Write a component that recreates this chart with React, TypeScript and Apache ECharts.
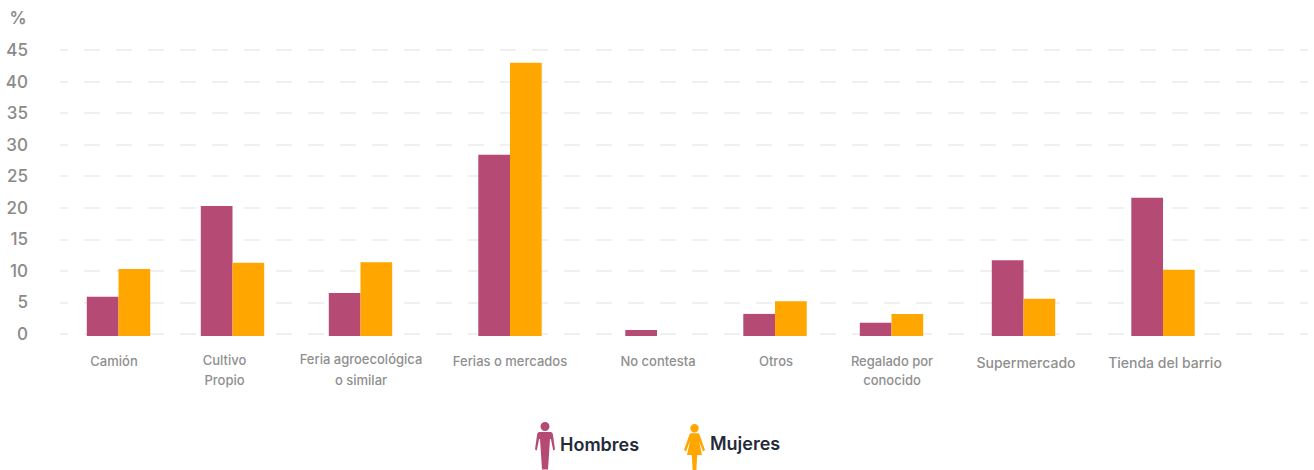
import React, { useEffect, useRef } from "react";
import * as echarts from "echarts";

const categories = [
  "Camión",
  "Cultivo\nPropio",
  "Feria agroecológica\no similar",
  "Ferias o mercados",
  "No contesta",
  "Otros",
  "Regalado por\nconocido",
  "Supermercado",
  "Tienda del barrio",
];
const hombres = [6.2, 20.6, 6.8, 28.7, 0.95, 3.5, 2.1, 12.0, 21.9];
const mujeres: (number | null)[] = [10.6, 11.6, 11.7, 43.3, null, 5.5, 3.5, 5.9, 10.5];
const yTicks = [0, 5, 10, 15, 20, 25, 30, 35, 40, 45];

// Uneven group placement along the horizontal pixel-like scale
const groupCenters = [118.5, 232.5, 360.5, 510, 657, 775, 891.5, 1023.5, 1163];
const labelCenters = [114, 224.5, 361, 510, 658, 776, 892, 1026, 1165];
const labelStyleKeys = ["a", "b", "c", "a", "a", "a", "e", "d", "d"];

const MAN =
  "path://M10 0.5a4.5 4.5 0 1 1 0 9a4.5 4.5 0 1 1 0-9zM4.5 10.5H15.5C17 10.5 17.6 11.5 17.9 13L20 28L18.2 29L15.9 17.5L15 17.5L13 48H7L5 17.5L4.1 17.5L1.8 29L0 28L2.1 13C2.4 11.5 3 10.5 4.5 10.5z";
const WOMAN =
  "path://M10.5 0a4 4 0 1 1 0 8.4a4 4 0 1 1 0-8.4zM7.5 9.2H13.5C14.6 9.2 15.2 9.8 15.6 10.8L21 26L19 27.5L15 17L18 31H13.2L12.4 46H8.6L7.8 31H3L6 17L2 27.5L0 26L5.4 10.8C5.8 9.8 6.4 9.2 7.5 9.2z";

const FONT = "Inter";
const MALE_COLOR = "#b54a74";
const FEMALE_COLOR = "#ffa600";

export default function App() {
  const ref = useRef<HTMLDivElement>(null);
  useEffect(() => {
    const chart = echarts.init(ref.current!, undefined, { renderer: "svg" });
    const labelText = { color: "#8f8f8f", fontFamily: FONT, fontWeight: 500, lineHeight: 20.5 };
    const legendText = { color: "#252a3a", fontFamily: FONT, fontSize: 18, fontWeight: 600 };
    chart.setOption({
      animation: false,
      backgroundColor: "#ffffff",
      grid: [
        { left: 60, width: 1248, top: 50, height: 284 },
        { left: 60, width: 1248, top: 52, height: 284 },
      ],
      xAxis: [
        { gridIndex: 0, type: "value", min: 60, max: 1308, show: false },
        {
          gridIndex: 1,
          type: "value",
          min: 60,
          max: 1308,
          splitLine: { show: false },
          axisLine: { show: false },
          axisTick: { show: false },
          axisLabel: {
            customValues: labelCenters,
            margin: 13,
            verticalAlign: "top",
            hideOverlap: false,
            showMinLabel: true,
            showMaxLabel: true,
            formatter: (v: number) => {
              const i = labelCenters.indexOf(Number(v));
              if (i < 0) return "";
              const key = labelStyleKeys[i];
              const lines = categories[i].split("\n");
              return lines.map((l, n) => `{${key}${n === 0 ? "" : "n"}|${l}}`).join("\n");
            },
            rich: {
              a: { ...labelText, fontSize: 13, padding: [3, 0, 0, 0] },
              b: { ...labelText, fontSize: 13, padding: [1, 0, 0, 0] },
              bn: { ...labelText, fontSize: 13 },
              c: { ...labelText, fontSize: 13, padding: [0, 0, 0, 0] },
              cn: { ...labelText, fontSize: 13 },
              d: { ...labelText, fontSize: 14, padding: [6, 0, 0, 0] },
              e: { ...labelText, fontSize: 13, padding: [3, 0, 0, 0] },
              en: { ...labelText, fontSize: 13 },
            },
          },
        },
      ],
      yAxis: [
        {
          gridIndex: 0,
          type: "value",
          min: yTicks[0],
          max: yTicks[yTicks.length - 1],
          interval: yTicks[1] - yTicks[0],
          name: "%",
          nameLocation: "end",
          nameGap: 24,
          nameTextStyle: {
            color: "#8a8a8a",
            fontFamily: FONT,
            fontSize: 17,
            fontWeight: 600,
            align: "center",
            padding: [0, 84, 0, 0],
          },
          axisLine: { show: false },
          axisTick: { show: false },
          axisLabel: {
            margin: 32,
            color: "#8a8a8a",
            fontFamily: FONT,
            fontSize: 17,
            fontWeight: 500,
          },
          splitLine: {
            show: true,
            lineStyle: { color: "#ececec", width: 1.5, type: [16, 16], dashOffset: 8 },
          },
        },
        { gridIndex: 1, type: "value", min: yTicks[0], max: yTicks[yTicks.length - 1], show: false },
      ],
      legend: [
        {
          data: [{ name: "Hombres", icon: MAN }],
          left: 535,
          top: 422,
          padding: 0,
          itemWidth: 20,
          itemHeight: 48,
          selectedMode: false,
          formatter: "{t|{name}}",
          textStyle: { ...legendText, rich: { t: { ...legendText, padding: [0, 0, 2, 0] } } },
        },
        {
          data: [{ name: "Mujeres", icon: WOMAN }],
          left: 684,
          top: 424,
          padding: 0,
          itemWidth: 21,
          itemHeight: 46,
          selectedMode: false,
          formatter: "{t|{name}}",
          textStyle: { ...legendText, rich: { t: { ...legendText, padding: [0, 0, 8, 0] } } },
        },
      ],
      series: [
        {
          name: "Hombres",
          type: "bar",
          xAxisIndex: 1,
          yAxisIndex: 1,
          barWidth: 31.7,
          barGap: 0,
          itemStyle: { color: MALE_COLOR },
          data: groupCenters.map((c, i) => [c, hombres[i]]),
        },
        {
          name: "Mujeres",
          type: "bar",
          xAxisIndex: 1,
          yAxisIndex: 1,
          barWidth: 31.7,
          barGap: 0,
          itemStyle: { color: FEMALE_COLOR },
          data: groupCenters.map((c, i) => [c, mujeres[i]]),
        },
      ],
    });
    return () => chart.dispose();
  }, []);
  return <div ref={ref} style={{ position: "absolute", left: 0, top: 0, width: 1314, height: 470 }} />;
}
